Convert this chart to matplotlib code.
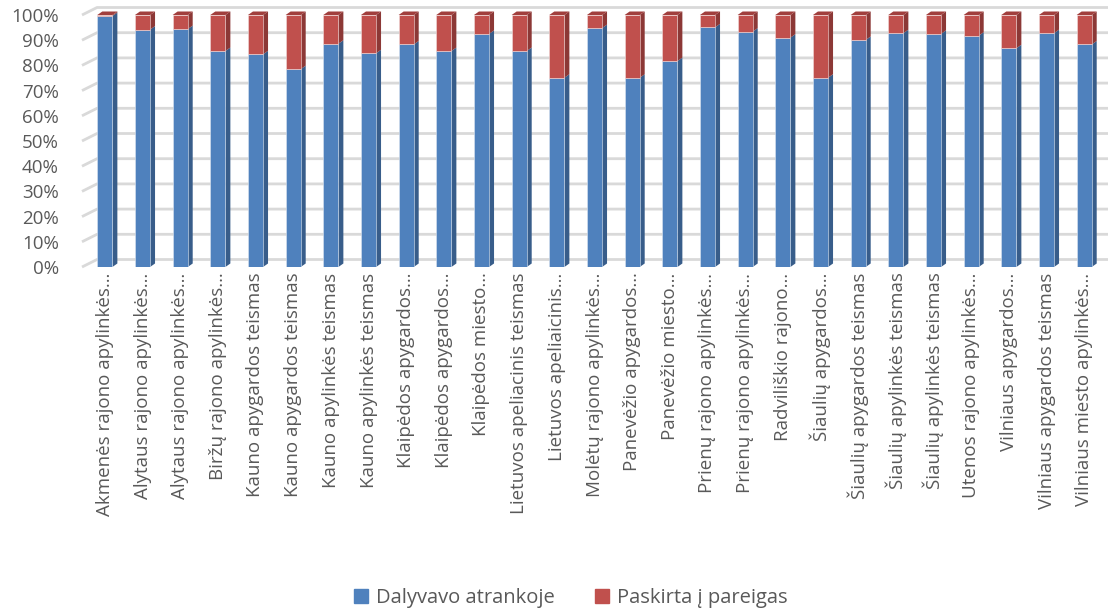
import matplotlib
matplotlib.use('Agg')
import matplotlib.pyplot as plt
import matplotlib.patches as mpatches
from matplotlib.ticker import PercentFormatter
import numpy as np

# Data (share of each court)
courts = [
    "Akmenės rajono apylinkės…", "Alytaus rajono apylinkės…", "Alytaus rajono apylinkės…",
    "Biržų rajono apylinkės…", "Kauno apygardos teismas", "Kauno apygardos teismas",
    "Kauno apylinkės teismas", "Kauno apylinkės teismas", "Klaipėdos apygardos…",
    "Klaipėdos apygardos…", "Klaipėdos miesto…", "Lietuvos apeliacinis teismas",
    "Lietuvos apeliaicinis…", "Molėtų rajono apylinkės…", "Panevėžio apygardos…",
    "Panevėžio miesto…", "Prienų rajono apylinkės…", "Prienų rajono apylinkės…",
    "Radviliškio rajono…", "Šiaulių apygardos…", "Šiaulių apygardos teismas",
    "Šiaulių apylinkės teismas", "Šiaulių apylinkės teismas", "Utenos rajono apylinkės…",
    "Vilniaus apygardos…", "Vilniaus apygardos teismas", "Vilniaus miesto apylinkės…",
]
participated = [99.6, 94.2, 94.4, 85.7, 84.4, 78.5, 88.6, 84.8, 88.3, 85.7, 92.5, 85.7, 75.1, 94.8,
                75.1, 81.7, 95.1, 93.4, 91.0, 75.1, 90.1, 92.8, 92.5, 91.8, 86.8, 92.8, 88.3]
appointed = [100 - v for v in participated]
series_names = ["Dalyvavo atrankoje", "Paskirta į pareigas"]

# Colours (Excel 2010 palette with shaded faces)
BLUE, BLUE_SIDE = "#4f81bd", "#385d8a"
RED, RED_SIDE, RED_TOP = "#c0504d", "#8c3836", "#a13f3d"
GRID = "#d9d9d9"
TEXT = "#595959"

plt.rcParams['font.family'] = ['Open Sans', 'DejaVu Sans']

W, H = 1108, 613
fig = plt.figure(figsize=(W / 100, H / 100), dpi=100)
ax_left, ax_right, ax_bottom, ax_top = 86, 1103, 267, 15
ax = fig.add_axes([ax_left / W, 1 - ax_bottom / H, (ax_right - ax_left) / W, (ax_bottom - ax_top) / H])

n = len(courts)
x = np.arange(n)
ax.set_xlim(-0.5, n - 0.5)
ax.set_ylim(0, 100)

px_x = (ax_right - ax_left) / n      # pixels per category
px_y = (ax_bottom - ax_top) / 100.0  # pixels per percent

# back wall gridlines with side-wall stubs (pseudo 3D)
x0 = -0.5 - 4 / px_x
gdx, gdy = 15 / px_x, 7.5 / px_y
for lvl in range(0, 101, 10):
    ax.plot([x0, x0 + gdx, n - 0.5 + 5 / px_x], [lvl, lvl + gdy, lvl + gdy],
            color=GRID, lw=2, clip_on=False, zorder=0, solid_capstyle='butt')

# bars
width = 0.4
bdx, bdy = 5 / px_x, 3.5 / px_y
blue = np.array(participated)
red = np.array(appointed)
ax.bar(x, blue, width, color=BLUE, edgecolor="#dce6f2", linewidth=0.4, zorder=3)
ax.bar(x, red, width, bottom=blue, color=RED, edgecolor="#f2dcdb", linewidth=0.4, zorder=3)

# depth faces
for xi, b, r in zip(x, blue, red):
    xr = xi + width / 2
    xl = xi - width / 2
    ax.add_patch(mpatches.Polygon([(xr, 0), (xr + bdx, bdy), (xr + bdx, b + bdy), (xr, b)],
                                  closed=True, color=BLUE_SIDE, lw=0, zorder=2, clip_on=False))
    ax.add_patch(mpatches.Polygon([(xr, b), (xr + bdx, b + bdy), (xr + bdx, b + r + bdy), (xr, b + r)],
                                  closed=True, color=RED_SIDE, lw=0, zorder=2, clip_on=False))
    top = b + r
    ax.add_patch(mpatches.Polygon([(xl, top), (xl + bdx, top + bdy), (xr + bdx, top + bdy), (xr, top)],
                                  closed=True, color=RED_TOP, lw=0, zorder=2, clip_on=False))

ax.set_yticks(range(0, 101, 10))
ax.yaxis.set_major_formatter(PercentFormatter(decimals=0))
ax.set_xticks(x)
ax.set_xticklabels(courts, rotation=90, ha='center', va='top')
ax.tick_params(axis='y', length=0, pad=19.5, labelsize=13.5, labelcolor=TEXT)
ax.tick_params(axis='x', length=0, pad=4, labelsize=13.5, labelcolor=TEXT)
for s in ax.spines.values():
    s.set_visible(False)
ax.set_facecolor('none')

handles = [mpatches.Patch(color=BLUE, label=series_names[0]),
           mpatches.Patch(color=RED, label=series_names[1])]
fig.legend(handles=handles, loc='center', bbox_to_anchor=(0.515, 1 - 598 / H), ncol=2,
           frameon=False, fontsize=14.5, handlelength=0.7, handleheight=0.7,
           handletextpad=0.4, columnspacing=2.0, labelcolor=TEXT)

fig.savefig("out.png", dpi=100, facecolor='white')
